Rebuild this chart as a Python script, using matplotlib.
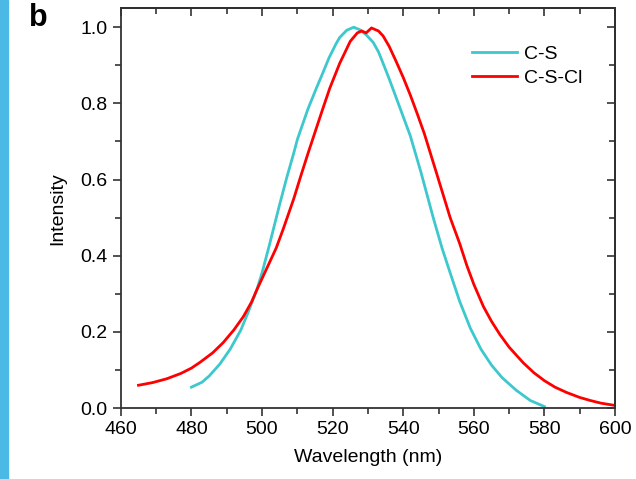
import matplotlib.pyplot as plt
from matplotlib.ticker import MultipleLocator
from matplotlib.patches import Rectangle

plt.rcParams['font.family'] = ['Liberation Sans', 'DejaVu Sans']

# C-S spectrum
cs_wl = [480, 483, 485, 488, 491, 494, 496, 498.5, 500, 502, 505, 507, 509, 510, 513,
         515.4, 517, 519, 521, 522, 524, 526, 528, 529.5, 531.5, 533, 534.3, 536, 538,
         540, 542, 545, 548.5, 551, 553.3, 556, 559, 562, 565, 568, 572, 576, 580]
cs_int = [0.055, 0.068, 0.084, 0.115, 0.155, 0.205, 0.25, 0.31, 0.355, 0.425, 0.535,
          0.605, 0.67, 0.705, 0.785, 0.84, 0.875, 0.92, 0.957, 0.973, 0.992, 1.0, 0.992,
          0.98, 0.96, 0.935, 0.905, 0.865, 0.815, 0.765, 0.715, 0.62, 0.50, 0.42, 0.355,
          0.28, 0.21, 0.155, 0.113, 0.08, 0.047, 0.02, 0.004]

# C-S-Cl spectrum
cscl_wl = [465, 469, 473, 477, 480, 482.4, 486, 489, 492, 494.7, 497, 498.5, 501, 504,
           506, 509, 511, 513, 514.5, 517, 519.2, 522, 525, 527, 528.2, 529.5, 531, 533,
           534.3, 536, 538, 540, 542, 544, 546, 549.5, 553.3, 556, 558, 560, 562.7, 565,
           567.4, 570, 574, 577, 580, 583, 586.3, 590, 593, 596, 600]
cscl_int = [0.06, 0.067, 0.077, 0.091, 0.105, 0.12, 0.145, 0.172, 0.205, 0.24, 0.278,
            0.31, 0.36, 0.42, 0.47, 0.55, 0.61, 0.668, 0.71, 0.78, 0.84, 0.905, 0.963,
            0.985, 0.99, 0.985, 0.998, 0.99, 0.977, 0.95, 0.91, 0.868, 0.822, 0.772,
            0.72, 0.615, 0.50, 0.432, 0.375, 0.325, 0.267, 0.228, 0.193, 0.16, 0.119,
            0.093, 0.072, 0.055, 0.041, 0.028, 0.02, 0.013, 0.007]

fig = plt.figure(figsize=(6.36, 4.79), dpi=100)
ax = fig.add_axes([0.190, 0.148, 0.777, 0.835])

ax.plot(cs_wl, cs_int, color='#3cc8cc', lw=2, label='C-S')
ax.plot(cscl_wl, cscl_int, color='#ff0000', lw=2, label='C-S-Cl')

ax.set_xlim(460, 600)
ax.set_ylim(0, 1.05)
ax.xaxis.set_major_locator(MultipleLocator(20))
ax.xaxis.set_minor_locator(MultipleLocator(10))
ax.yaxis.set_major_locator(MultipleLocator(0.2))
ax.yaxis.set_minor_locator(MultipleLocator(0.1))
ax.yaxis.set_major_formatter(plt.FormatStrFormatter('%.1f'))
ax.tick_params(which='both', direction='out', labelsize=14, width=1.2, color='#333333')
ax.tick_params(which='major', length=6)
ax.tick_params(which='minor', length=4)

# mirrored inward ticks on top and right
top = ax.secondary_xaxis('top')
top.xaxis.set_major_locator(MultipleLocator(20))
top.xaxis.set_minor_locator(MultipleLocator(10))
top.tick_params(which='both', direction='in', labeltop=False, width=1.2, color='#333333')
top.tick_params(which='major', length=6)
top.tick_params(which='minor', length=4)
right = ax.secondary_yaxis('right')
right.yaxis.set_major_locator(MultipleLocator(0.2))
right.yaxis.set_minor_locator(MultipleLocator(0.1))
right.tick_params(which='both', direction='in', labelright=False, width=1.2, color='#333333')
right.tick_params(which='major', length=6)
right.tick_params(which='minor', length=4)

for sp in ax.spines.values():
    sp.set_linewidth(1.3)
    sp.set_color('#333333')
top.spines['top'].set_linewidth(1.3)
right.spines['right'].set_linewidth(1.3)

ax.set_xlabel('Wavelength (nm)', fontsize=14, labelpad=8)
ax.set_ylabel('Intensity', fontsize=14, labelpad=10)

ax.legend(loc='upper right', bbox_to_anchor=(0.97, 0.95), frameon=False, fontsize=14,
          handlelength=2.3, handletextpad=0.4, labelspacing=0.3)

fig.text(0.045, 0.945, 'b', fontsize=22, fontweight='bold')
fig.patches.append(Rectangle((0, 0), 8 / 636, 1, transform=fig.transFigure,
                             color='#4cb8e6', zorder=0))

fig.savefig('out.png', dpi=100)
